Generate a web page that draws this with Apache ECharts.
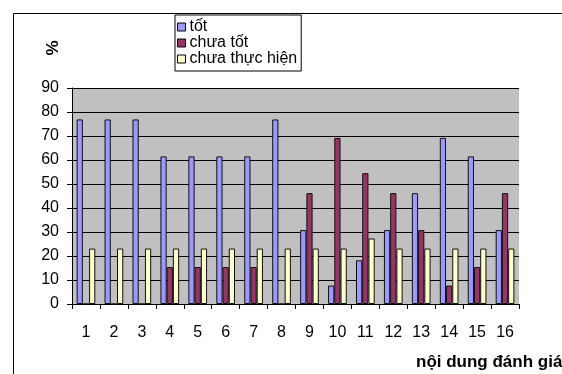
<!DOCTYPE html>
<html>
<head>
<meta charset="utf-8">
<script src="https://cdn.jsdelivr.net/npm/echarts@6/dist/echarts.min.js"></script>
<style>
html,body{margin:0;padding:0;background:#fff;}
#chart{width:562px;height:374px;}
</style>
</head>
<body>
<div id="chart"></div>
<script>
var categories = ['1','2','3','4','5','6','7','8','9','10','11','12','13','14','15','16'];
var seriesNames = ['tốt', 'chưa tốt', 'chưa thực hiện'];
var tot = [76.9, 76.9, 76.9, 61.5, 61.5, 61.5, 61.5, 76.9, 30.8, 7.7, 18.2, 30.8, 46.2, 69.2, 61.5, 30.8];
var chuaTot = [0, 0, 0, 15.4, 15.4, 15.4, 15.4, 0, 46.2, 69.2, 54.5, 46.2, 30.8, 7.7, 15.4, 46.2];
var chuaThucHien = [23.1, 23.1, 23.1, 23.1, 23.1, 23.1, 23.1, 23.1, 23.1, 23.1, 27.3, 23.1, 23.1, 23.1, 23.1, 23.1];
var yTicks = [0, 10, 20, 30, 40, 50, 60, 70, 80, 90];
var xAxisTitle = 'nội dung đánh giá';
var yAxisTitle = '%';

var FONT = '"Liberation Sans", Arial, sans-serif';
var colors = ['#9999FF', '#993366', '#FFFFCC'];
var chart = echarts.init(document.getElementById('chart'), null, {renderer: 'canvas'});

function barSeries(name, data, color) {
  return {
    name: name,
    type: 'bar',
    data: data,
    barGap: '0%',
    barCategoryGap: '33%',
    itemStyle: {color: color, borderColor: '#111', borderWidth: 1},
    emphasis: {disabled: true}
  };
}

chart.setOption({
  animation: false,
  backgroundColor: '#fff',
  textStyle: {fontFamily: FONT},
  grid: {left: 72, right: 43, top: 88, bottom: 70, show: true, backgroundColor: '#C0C0C0', borderWidth: 0},
  legend: {
    orient: 'vertical',
    left: 175,
    top: 15,
    padding: [4, 4, 4, 2],
    itemWidth: 8,
    itemHeight: 8,
    itemGap: 0,
    icon: 'rect',
    borderColor: '#000',
    borderWidth: 1,
    backgroundColor: '#fff',
    selectedMode: false,
    textStyle: {fontFamily: FONT, fontSize: 16, color: '#000', lineHeight: 16, padding: [0, 0, 0, -1]},
    itemStyle: {borderColor: '#000', borderWidth: 1},
    data: seriesNames
  },
  xAxis: {
    type: 'category',
    data: categories,
    boundaryGap: true,
    axisLine: {lineStyle: {color: '#000', width: 1}},
    axisTick: {show: true, length: 5, inside: false, lineStyle: {color: '#000'}},
    axisLabel: {fontFamily: FONT, fontSize: 16, color: '#000', margin: 21, interval: 0},
    splitLine: {show: false}
  },
  yAxis: {
    type: 'value',
    min: yTicks[0],
    max: yTicks[yTicks.length - 1],
    interval: yTicks[1] - yTicks[0],
    axisLine: {show: true, lineStyle: {color: '#000', width: 1}},
    axisTick: {show: true, length: 5, lineStyle: {color: '#000'}},
    axisLabel: {fontFamily: FONT, fontSize: 16, color: '#000', margin: 13},
    splitLine: {show: true, lineStyle: {color: '#000', width: 1}}
  },
  graphic: [
    {type: 'rect', left: 11, top: 11, shape: {x: 0, y: 0, width: 620, height: 420}, style: {fill: 'none', stroke: '#000', lineWidth: 1}, silent: true, z: 100},
    {type: 'text', x: 53, y: 48, rotation: Math.PI / 2, style: {text: yAxisTitle, font: 'bold 17px ' + FONT, fill: '#000', textAlign: 'center', textVerticalAlign: 'middle'}},
    {type: 'text', x: 416, y: 362, style: {text: xAxisTitle, font: 'bold 17px ' + FONT, fill: '#000', textVerticalAlign: 'middle'}}
  ],
  series: [
    barSeries(seriesNames[0], tot, colors[0]),
    barSeries(seriesNames[1], chuaTot, colors[1]),
    barSeries(seriesNames[2], chuaThucHien, colors[2])
  ]
});
</script>
</body>
</html>
